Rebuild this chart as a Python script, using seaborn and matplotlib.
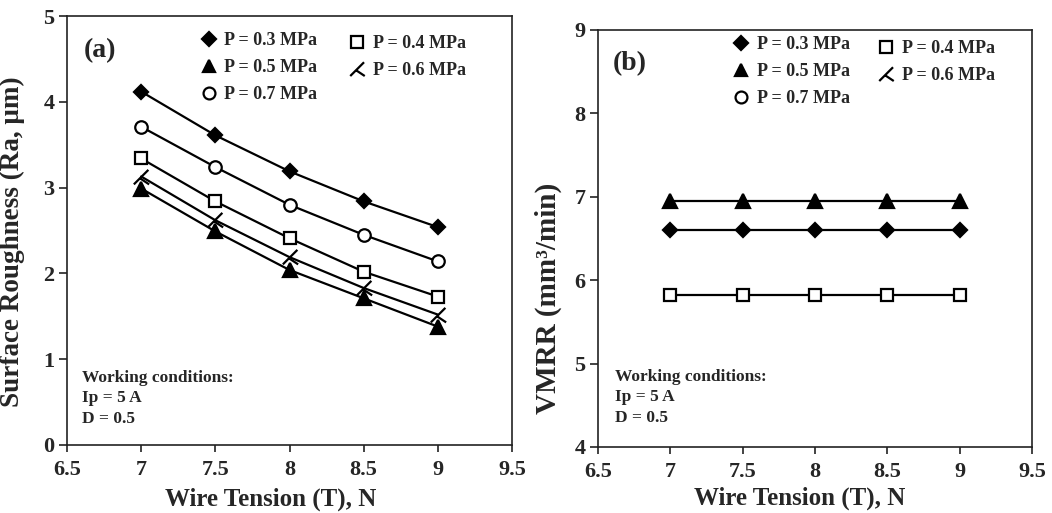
import matplotlib
matplotlib.use("Agg")
import matplotlib.pyplot as plt
import numpy as np
import pandas as pd
import seaborn as sns
from matplotlib.path import Path
from matplotlib.lines import Line2D

# Wire tension levels (N)
tension = [7, 7.5, 8, 8.5, 9]

# Surface roughness Ra (um) for each flushing pressure
ra_p03 = [4.12, 3.61, 3.19, 2.84, 2.54]
ra_p04 = [3.34, 2.84, 2.41, 2.02, 1.73]
ra_p05 = [2.99, 2.49, 2.04, 1.71, 1.38]
ra_p06 = [3.13, 2.62, 2.19, 1.83, 1.52]
ra_p07 = [3.71, 3.24, 2.80, 2.45, 2.14]

# Volumetric material removal rate (mm3/min)
vmrr_p03 = [6.60, 6.60, 6.60, 6.60, 6.60]
vmrr_p04 = [5.82, 5.82, 5.82, 5.82, 5.82]
vmrr_p05 = [6.95, 6.95, 6.95, 6.95, 6.95]

labels = {"0.3": "P = 0.3 MPa", "0.4": "P = 0.4 MPa", "0.5": "P = 0.5 MPa",
          "0.6": "P = 0.6 MPa", "0.7": "P = 0.7 MPa"}

sns.set_style("ticks")
plt.rcParams["font.family"] = ["Liberation Serif", "DejaVu Serif"]
plt.rcParams["font.weight"] = "bold"
plt.rcParams["axes.labelweight"] = "bold"

# Bent-cross marker for the 0.6 MPa series
kmark = Path([(-1.0, -0.9), (0.9, 1.0), (-0.2, -0.1), (1.0, -0.9)],
             [Path.MOVETO, Path.LINETO, Path.MOVETO, Path.LINETO])

style = {
    "0.3": dict(marker="D", ms=7.0, mfc="black"),
    "0.4": dict(marker="s", ms=8.5, mfc="white"),
    "0.5": dict(marker="^", ms=9.5, mfc="black"),
    "0.6": dict(marker=kmark, ms=11, mfc="none"),
    "0.7": dict(marker="o", ms=9.0, mfc="white"),
}

ra = pd.concat([
    pd.DataFrame({"T": tension, "val": v, "P": p})
    for p, v in [("0.3", ra_p03), ("0.7", ra_p07), ("0.4", ra_p04),
                 ("0.6", ra_p06), ("0.5", ra_p05)]
])
vm = pd.concat([
    pd.DataFrame({"T": tension, "val": v, "P": p})
    for p, v in [("0.5", vmrr_p05), ("0.3", vmrr_p03), ("0.4", vmrr_p04)]
])

fig = plt.figure(figsize=(10.52, 5.13), dpi=100)
ax_a = fig.add_axes([0.0637, 0.1326, 0.423, 0.836])
ax_b = fig.add_axes([0.5684, 0.1287, 0.4125, 0.8129])


def draw(ax, df):
    for p, sub in df.groupby("P", sort=False):
        st = style[p]
        sns.lineplot(data=sub, x="T", y="val", ax=ax, color="black", lw=1.6,
                     marker=st["marker"], markersize=st["ms"],
                     markerfacecolor=st["mfc"], markeredgecolor="black",
                     markeredgewidth=1.6, zorder=3)


def handle(p):
    st = style[p]
    return Line2D([], [], color="black", linestyle="none", marker=st["marker"],
                  markersize=st["ms"] * 0.95, markerfacecolor=st["mfc"],
                  markeredgecolor="black", markeredgewidth=1.6)


def legends(ax, a1, a2):
    kw = dict(frameon=False, loc="upper left", handlelength=0.85,
              handletextpad=0.45, labelspacing=0.55, borderpad=0,
              borderaxespad=0, prop=dict(weight="bold", size=13))
    l1 = ax.legend([handle(p) for p in ["0.3", "0.5", "0.7"]],
                   [labels[p] for p in ["0.3", "0.5", "0.7"]],
                   bbox_to_anchor=a1, **kw)
    ax.add_artist(l1)
    ax.legend([handle(p) for p in ["0.4", "0.6"]],
              [labels[p] for p in ["0.4", "0.6"]],
              bbox_to_anchor=a2, **kw)


def frame(ax, ylim, yticks):
    ax.set_xlim(6.5, 9.5)
    ax.set_xticks([6.5, 7, 7.5, 8, 8.5, 9, 9.5])
    ax.set_xticklabels(["6.5", "7", "7.5", "8", "8.5", "9", "9.5"])
    ax.set_ylim(*ylim)
    ax.set_yticks(yticks)
    for s in ax.spines.values():
        s.set_visible(True)
        s.set_linewidth(1.2)
        s.set_color("#222222")
    ax.tick_params(axis="x", direction="out", length=5, width=1.2,
                   labelsize=16, pad=6, color="#222222")
    ax.tick_params(axis="y", direction="out", length=6, width=1.2,
                   labelsize=16, pad=3, color="#222222")
    for t in ax.get_xticklabels() + ax.get_yticklabels():
        t.set_fontweight("bold")
    ax.set_xlabel("Wire Tension (T), N", fontsize=18, fontweight="bold")


draw(ax_a, ra)
frame(ax_a, (0, 5), [0, 1, 2, 3, 4, 5])
ax_a.set_ylabel("Surface Roughness (Ra, μm)", fontsize=19.5, fontweight="bold")
ax_a.yaxis.set_label_coords(-0.094, 0.474)
ax_a.xaxis.set_label_coords(0.458, -0.100)
ax_a.text(0.038, 0.92, "(a)", transform=ax_a.transAxes, fontsize=20,
          fontweight="bold", ha="left", va="center")
ax_a.text(0.033, 0.175, "Working conditions:\nIp = 5 A\nD = 0.5",
          transform=ax_a.transAxes, fontsize=12.5, fontweight="bold",
          ha="left", va="top", linespacing=1.38)
legends(ax_a, (0.301, 0.963), (0.634, 0.956))

draw(ax_b, vm)
frame(ax_b, (4, 9), [4, 5, 6, 7, 8, 9])
ax_b.set_ylabel("VMRR (mm³/min)", fontsize=21, fontweight="bold")
ax_b.yaxis.set_label_coords(-0.083, 0.357)
ax_b.xaxis.set_label_coords(0.466, -0.096)
ax_b.text(0.035, 0.92, "(b)", transform=ax_b.transAxes, fontsize=20,
          fontweight="bold", ha="left", va="center")
ax_b.text(0.04, 0.188, "Working conditions:\nIp = 5 A\nD = 0.5",
          transform=ax_b.transAxes, fontsize=12.5, fontweight="bold",
          ha="left", va="top", linespacing=1.38)
legends(ax_b, (0.312, 0.9856), (0.646, 0.976))

fig.savefig("out.png", dpi=100)
